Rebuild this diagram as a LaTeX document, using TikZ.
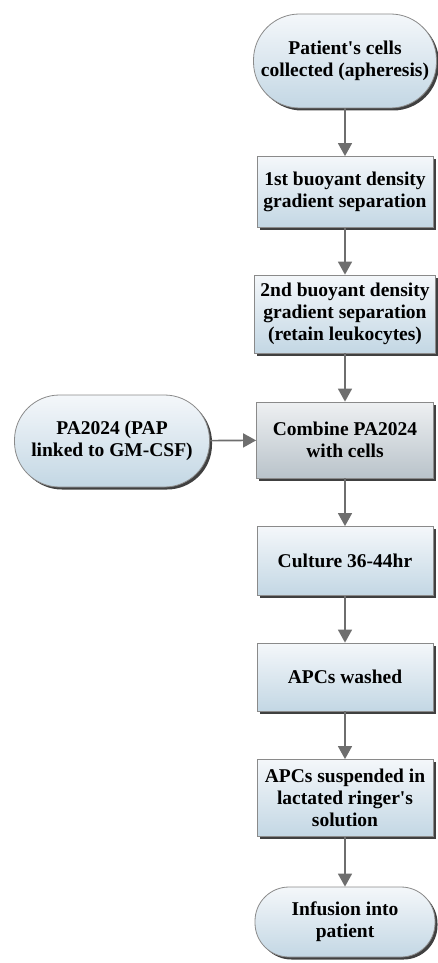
\documentclass[tikz,border=0pt]{standalone}
\usepackage{fontspec}
\setmainfont{Liberation Serif}
\usetikzlibrary{arrows.meta,shadows}
\definecolor{boxtop}{HTML}{F4F7FA}
\definecolor{boxbot}{HTML}{C3D7E4}
\definecolor{graytop}{HTML}{EEF0F2}
\definecolor{graybot}{HTML}{B9C3CA}
\definecolor{edgegray}{HTML}{8A8A8A}
\definecolor{arrowgray}{HTML}{6E6E6E}
\tikzset{
  stepbox/.style={draw=edgegray, line width=0.8pt, top color=boxtop, bottom color=boxbot,
    drop shadow={shadow xshift=2.5pt, shadow yshift=-2.5pt, fill=black!75, opacity=1},
    align=center, font=\fontsize{19.5}{22}\selectfont\bfseries, inner sep=1pt},
  termbox/.style={stepbox},
  flow/.style={draw=arrowgray, line width=1.6pt, -{Triangle[length=13pt,width=14pt]}}
}
\begin{document}
\begin{tikzpicture}[x=1pt,y=-1pt]
		\useasboundingbox (0,0) rectangle (438,963);
		%
		\node[termbox, minimum width=183pt, minimum height=94pt, rounded corners=46pt] (cells) at (345,61) {Patient\textquotesingle s cells\\collected (apheresis)};
		\node[stepbox, minimum width=176pt, minimum height=71pt] (sepa) at (345,192) {1st buoyant density\\gradient separation};
		\node[stepbox, minimum width=181pt, minimum height=78pt] (sepb) at (345,314) {2nd buoyant density\\gradient separation\\(retain leukocytes)};
		\node[stepbox, minimum width=177pt, minimum height=76pt, top color=graytop, bottom color=graybot] (comb) at (345,440) {Combine PA2024\\with cells};
		\node[termbox, minimum width=195pt, minimum height=92pt, rounded corners=45pt] (pa) at (112,441) {PA2024 (PAP\\linked to GM-CSF)};
		\node[stepbox, minimum width=176pt, minimum height=69pt] (cult) at (345,561) {Culture 36-44hr};
		\node[stepbox, minimum width=176pt, minimum height=68pt] (wash) at (345,677) {APCs washed};
		\node[stepbox, minimum width=176pt, minimum height=77pt] (susp) at (345,798) {APCs suspended in\\lactated ringer\textquotesingle s\\solution};
		\node[termbox, minimum width=180pt, minimum height=70pt, rounded corners=34pt] (inf) at (345,922) {Infusion into\\patient};
		%
		\draw[flow] (cells) -- (sepa);
		\draw[flow] (sepa) -- (sepb);
		\draw[flow] (sepb) -- (comb);
		\draw[flow] (pa) -- (comb);
		\draw[flow] (comb) -- (cult);
		\draw[flow] (cult) -- (wash);
		\draw[flow] (wash) -- (susp);
		\draw[flow] (susp) -- (inf);
		%
\end{tikzpicture}
\end{document}
